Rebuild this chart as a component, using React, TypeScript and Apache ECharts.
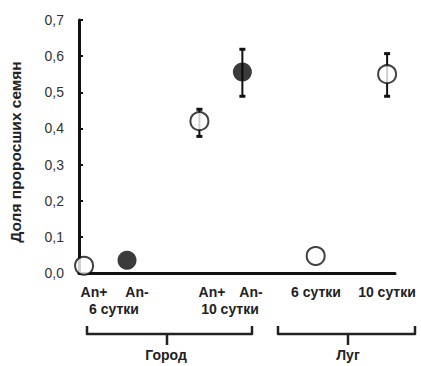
import React, { useEffect, useRef } from "react";
import * as echarts from "echarts";

// Data
const categories = ["Город An+ 6 сутки", "Город An- 6 сутки", "Город An+ 10 сутки", "Город An- 10 сутки", "Луг 6 сутки", "Луг 10 сутки"];
const xPositions = [1.6, 15.2, 38.1, 51.7, 74.9, 97.5];
const values = [0.02, 0.035, 0.42, 0.556, 0.047, 0.55];
const errLow: (number | null)[] = [null, null, 0.378, 0.489, null, 0.489];
const errHigh: (number | null)[] = [null, null, 0.453, 0.619, null, 0.607];
const filled = [false, true, false, true, false, false];
const yTicks = [0, 0.1, 0.2, 0.3, 0.4, 0.5, 0.6, 0.7];

const FONT = "'Liberation Sans', Arial, sans-serif";

export default function App() {
  const ref = useRef<HTMLDivElement>(null);
  useEffect(() => {
    if (!ref.current) return;
    const chart = echarts.init(ref.current, null, { renderer: "svg" });
    const openData = xPositions
      .map((x, i) => (filled[i] ? null : [x, values[i]]))
      .filter((d) => d !== null);
    const filledData = xPositions
      .map((x, i) => (filled[i] ? [x, values[i]] : null))
      .filter((d) => d !== null);
    const errData = xPositions
      .map((x, i) => (errLow[i] != null ? [x, errLow[i], errHigh[i]] : null))
      .filter((d) => d !== null);

    const txt = (text: string, x: number, y: number, size = 14) => ({
      type: "text",
      x,
      y,
      style: {
        text,
        x: 0,
        y: 0,
        textAlign: "center",
        textVerticalAlign: "middle",
        font: `bold ${size}px ${FONT}`,
        fill: "#222",
      },
    });
    const bracket = (x1: number, x2: number, xc: number) => [
      {
        type: "polyline",
        shape: { points: [[x1, 326], [x1, 334], [x2, 334], [x2, 326]] },
        style: { stroke: "#222", lineWidth: 2.5, fill: null, lineJoin: "round" },
      },
      {
        type: "line",
        shape: { x1: xc, y1: 334, x2: xc, y2: 345 },
        style: { stroke: "#222", lineWidth: 2.5 },
      },
    ];

    chart.setOption({
      animation: false,
      backgroundColor: "#fff",
      grid: { left: 79, right: 26, top: 20, bottom: 93 },
      xAxis: {
        type: "value",
        min: 0,
        max: 100,
        axisLine: { show: true, lineStyle: { color: "#111", width: 3 } },
        axisTick: { show: false },
        axisLabel: { show: false },
        splitLine: { show: false },
      },
      yAxis: {
        type: "value",
        min: 0,
        max: 0.7,
        interval: 0.1,
        axisLine: { show: true, lineStyle: { color: "#111", width: 3 } },
        axisTick: { show: true, inside: true, length: 4, lineStyle: { color: "#111", width: 2 } },
        axisLabel: {
          margin: 15,
          fontFamily: FONT,
          fontSize: 14,
          color: "#333",
          formatter: (v: number) => {
            const t = yTicks.find((k) => Math.abs(k - v) < 1e-6);
            return (t !== undefined ? t : v).toFixed(1).replace(".", ",");
          },
        },
        splitLine: { show: false },
      },
      series: [
        {
          type: "custom",
          z: 1,
          clip: false,
          data: errData,
          renderItem: (params: any, api: any) => {
            const x = api.value(0);
            const lo = api.coord([x, api.value(1)]);
            const hi = api.coord([x, api.value(2)]);
            const cw = 3;
            return {
              type: "group",
              children: [
                { type: "line", shape: { x1: lo[0], y1: lo[1], x2: hi[0], y2: hi[1] }, style: { stroke: "#111", lineWidth: 2 } },
                { type: "line", shape: { x1: lo[0] - cw, y1: lo[1], x2: lo[0] + cw, y2: lo[1] }, style: { stroke: "#111", lineWidth: 3 } },
                { type: "line", shape: { x1: hi[0] - cw, y1: hi[1], x2: hi[0] + cw, y2: hi[1] }, style: { stroke: "#111", lineWidth: 3 } },
              ],
            };
          },
        },
        {
          type: "scatter",
          name: "open",
          z: 3,
          clip: false,
          symbol: "circle",
          symbolSize: 18,
          itemStyle: { color: "#fff", borderColor: "#111", borderWidth: 2 },
          data: openData,
        },
        {
          type: "scatter",
          name: "filled",
          z: 3,
          clip: false,
          symbol: "circle",
          symbolSize: 19,
          itemStyle: { color: "#0a0a0a" },
          data: filledData,
        },
      ],
      graphic: [
        {
          type: "text",
          x: 15,
          y: 152,
          rotation: Math.PI / 2,
          style: {
            text: "Доля проросших семян",
            x: 0,
            y: 0,
            textAlign: "center",
            textVerticalAlign: "middle",
            font: `bold 15.5px ${FONT}`,
            fill: "#222",
          },
        },
        txt("An+", 94, 292),
        txt("An-", 137, 292),
        txt("6 сутки", 114, 309),
        txt("An+", 212, 292),
        txt("An-", 251, 292),
        txt("10 сутки", 230, 309),
        txt("6 сутки", 316, 292),
        txt("10 сутки", 387, 292),
        ...bracket(87, 252, 167),
        ...bracket(278, 415, 348),
        txt("Город", 166, 355),
        txt("Луг", 348, 355),
      ],
    });
    return () => chart.dispose();
  }, []);
  return <div ref={ref} style={{ position: "fixed", left: 0, top: 0, width: 421, height: 366 }} />;
}
